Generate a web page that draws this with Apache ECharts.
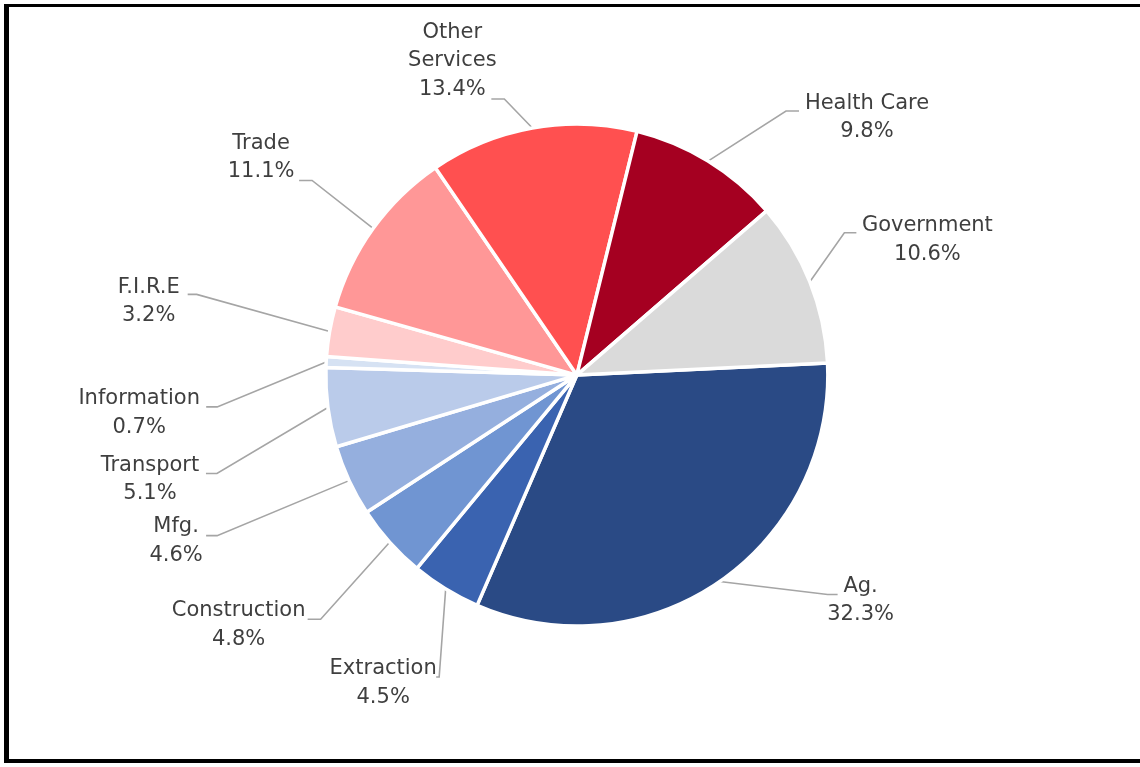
<!DOCTYPE html>
<html>
<head>
<meta charset="utf-8">
<script src="https://cdn.jsdelivr.net/npm/echarts@6/dist/echarts.min.js"></script>
<style>
  html, body { margin: 0; padding: 0; background: #fff; overflow: hidden; }
  #wrap { position: relative; width: 1140px; height: 767px; overflow: hidden; background: #fff; }
  #frame { position: absolute; left: 4px; top: 4px; width: 1200px; height: 759px; box-sizing: border-box;
           border-top: 3px solid #000; border-bottom: 4px solid #000; border-left: 5px solid #000; border-right: none; }
  #chart { position: absolute; left: 0; top: 0; width: 1140px; height: 767px; }
</style>
</head>
<body>
<div id="wrap">
  <div id="frame"></div>
  <div id="chart"></div>
</div>
<script>
// ---- data ----
const categories = ['Ag.', 'Extraction', 'Construction', 'Mfg.', 'Transport', 'Information',
                    'F.I.R.E', 'Trade', 'Other Services', 'Health Care', 'Government'];
const shares = [32.3, 4.5, 4.8, 4.6, 5.1, 0.7, 3.2, 11.1, 13.4, 9.8, 10.6];

// ---- styles ----
const sliceColors = ['#2A4A85', '#3A63B0', '#7095D2', '#95AFDE', '#BACBEA', '#D6E2F3',
                     '#FFCCCC', '#FF9797', '#FF5050', '#A50021', '#DADADA'];
// label guide layout: [elbow dx, elbow dy (from slice edge point), horizontal run, text-block dx, dy (from line end)]
const labelGuides = [
  [108, 13, 10, 23, 6],
  [-6.5, 88, -3, -53, 6],
  [-69, 77, -13, -69, 6],
  [-132, 55, -11, -30, 5.5],
  [-111, 66, -11, -56, 6],
  [-109, 45, -11, -67, 6],
  [-133, -37, -9, -39, 7],
  [-61, -48, -13, -38, -23],
  [-28, -29, -13, -39, -38],
  [78, -50, 13, 68, 6.5],
  [34.5, -49, 12, 71, 7]
];

const chart = echarts.init(document.getElementById('chart'), null, { renderer: 'canvas' });
chart.setOption({
  animation: false,
  backgroundColor: 'transparent',
  series: [{
    type: 'pie',
    center: ['50.6%', '48.9%'],
    radius: 251,
    startAngle: 2.75,
    clockwise: true,
    avoidLabelOverlap: false,
    data: categories.map((c, i) => ({ name: c, value: shares[i], itemStyle: { color: sliceColors[i] } })),
    itemStyle: { borderColor: '#ffffff', borderWidth: 3.5 },
    label: {
      show: true,
      position: 'outside',
      fontFamily: 'DejaVu Sans',
      fontSize: 21,
      lineHeight: 28.5,
      color: '#3F3F3F',
      align: 'center',
      formatter: p => (p.name === 'Other Services' ? 'Other\nServices' : p.name) + '\n' + p.value.toFixed(1) + '%'
    },
    labelLine: {
      show: true,
      length: 20,
      length2: 10,
      lineStyle: { color: '#A5A5A5', width: 1.6 }
    },
    labelLayout: function (params) {
      const g = labelGuides[params.dataIndex];
      const pts = params.labelLinePoints;
      if (!pts) return {};
      const s = pts[0];
      const elbow = [s[0] + g[0], s[1] + g[1]];
      const end = [elbow[0] + g[2], elbow[1]];
      return {
        x: end[0] + g[3],
        y: end[1] + g[4],
        align: 'center',
        verticalAlign: 'middle',
        labelLinePoints: [[s[0], s[1]], elbow, end]
      };
    }
  }]
});
</script>
</body>
</html>
